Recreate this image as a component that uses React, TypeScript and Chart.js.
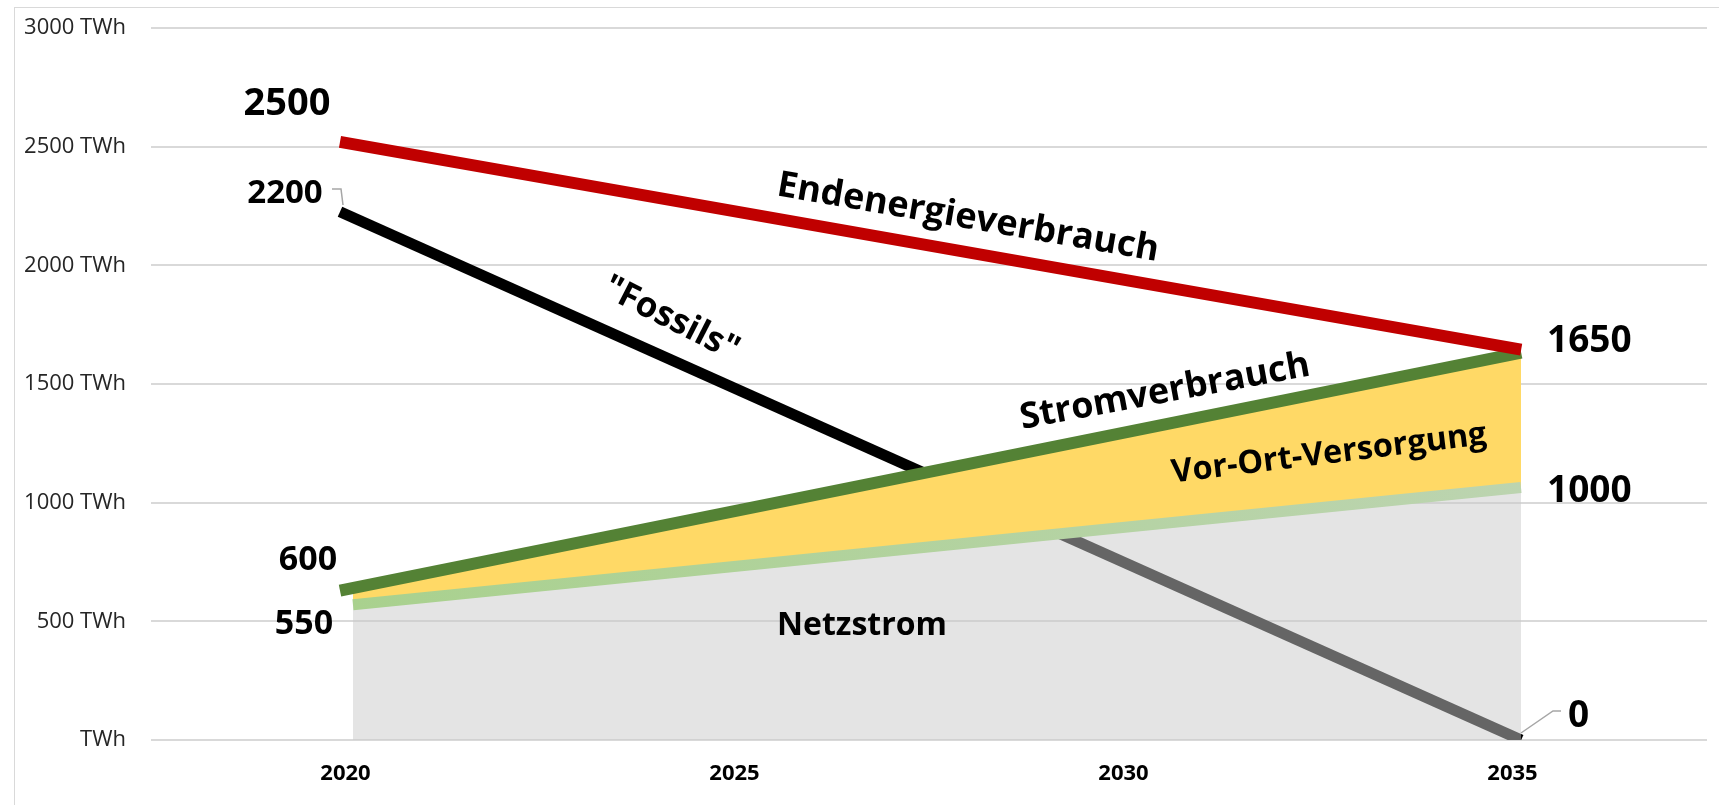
import React, { useEffect, useRef } from 'react';
import { Chart, registerables } from 'chart.js';

Chart.register(...registerables);

// ---- data ----
const years = [2020, 2035];
const xLabels = ['2020', '2025', '2030', '2035'];
const yTicks = [0, 500, 1000, 1500, 2000, 2500, 3000];
const endenergie = [2520, 1645];
const fossils = [2226, 0];
const netzstrom = [570, 1064];
const stromverbrauch = [629, 1632];

const FONT = "'Open Sans', 'Noto Sans', sans-serif";

type Txt = { text: string; x: number; y: number; size: number; align: CanvasTextAlign; angle?: number };

const valueTexts: Txt[] = [
  { text: '2500', x: 287, y: 115, size: 38, align: 'center' },
  { text: '2200', x: 285, y: 203, size: 33, align: 'center' },
  { text: '600', x: 308, y: 570, size: 34, align: 'center' },
  { text: '550', x: 304, y: 634, size: 34, align: 'center' },
  { text: '1650', x: 1547, y: 352, size: 37, align: 'left' },
  { text: '1000', x: 1547, y: 502, size: 37, align: 'left' },
  { text: '0', x: 1568, y: 727, size: 37, align: 'left' },
  { text: 'Netzstrom', x: 862, y: 635, size: 32, align: 'center' },
];

const seriesTexts: Txt[] = [
  { text: 'Endenergieverbrauch', x: 968, y: 218, size: 36, align: 'center', angle: 9.8 },
  { text: '"Fossils"', x: 671, y: 319, size: 35, align: 'center', angle: 27 },
  { text: 'Stromverbrauch', x: 1165, y: 392, size: 36, align: 'center', angle: -10.5 },
  { text: 'Vor-Ort-Versorgung', x: 1329, y: 454, size: 32.5, align: 'center', angle: -7 },
];

const leaders: number[][][] = [
  [[332, 189], [341, 189], [343, 205]],
  [[1521, 733], [1553, 711], [1561, 711]],
];

const annotPlugin = {
  id: 'annot',
  afterDatasetsDraw(chart: any) {
    const ctx = chart.ctx as CanvasRenderingContext2D;
    ctx.save();
    ctx.strokeStyle = '#a6a6a6';
    ctx.lineWidth = 1.5;
    leaders.forEach((pts) => {
      ctx.beginPath();
      pts.forEach((p, i) => (i === 0 ? ctx.moveTo(p[0], p[1]) : ctx.lineTo(p[0], p[1])));
      ctx.stroke();
    });
    ctx.fillStyle = '#000';
    valueTexts.forEach((t) => {
      ctx.font = `bold ${t.size}px ${FONT}`;
      ctx.textAlign = t.align;
      ctx.textBaseline = 'alphabetic';
      ctx.fillText(t.text, t.x, t.y);
    });
    seriesTexts.forEach((t) => {
      ctx.save();
      ctx.translate(t.x, t.y);
      ctx.rotate(((t.angle || 0) * Math.PI) / 180);
      ctx.font = `bold ${t.size}px ${FONT}`;
      ctx.textAlign = 'center';
      ctx.textBaseline = 'middle';
      ctx.fillText(t.text, 0, 0);
      ctx.restore();
    });
    ctx.restore();
  },
};

const pts = (vals: number[]) => vals.map((v, i) => ({ x: years[i], y: v }));

const netzBorder = (c: any) => {
  const chart = c.chart;
  const area = chart.chartArea;
  if (!area) return '#a9d18e';
  const g = chart.ctx.createLinearGradient(area.left + 200, 0, area.right - 180, 0);
  g.addColorStop(0, '#a9d18e');
  g.addColorStop(1, '#bcd4b0');
  return g;
};

export default function App() {
  const ref = useRef<HTMLCanvasElement | null>(null);
  useEffect(() => {
    if (!ref.current) return;
    const chart = new Chart(ref.current, {
      type: 'line',
      data: {
        labels: xLabels,
        datasets: [
          {
            label: 'Endenergieverbrauch',
            data: pts(endenergie),
            xAxisID: 'xData',
            borderColor: '#c00000',
            borderWidth: 12,
            pointRadius: 0,
            fill: false,
            order: 1,
            borderCapStyle: 'butt',
          },
          {
            label: 'Fossils',
            data: pts(fossils),
            xAxisID: 'xData',
            borderColor: '#000000',
            borderWidth: 11,
            pointRadius: 0,
            fill: false,
            order: 4,
            borderCapStyle: 'butt',
          },
          {
            label: 'Netzstrom',
            data: pts(netzstrom),
            xAxisID: 'xArea',
            borderColor: netzBorder,
            borderWidth: 11,
            pointRadius: 0,
            fill: 'origin',
            backgroundColor: 'rgba(202,202,202,0.5)',
            order: 2,
            borderCapStyle: 'butt',
          },
          {
            label: 'Stromverbrauch',
            data: pts(stromverbrauch),
            xAxisID: 'xData',
            borderColor: '#548235',
            borderWidth: 12,
            pointRadius: 0,
            fill: 2,
            backgroundColor: '#ffd966',
            order: 3,
            borderCapStyle: 'butt',
          },
        ] as any,
      },
      options: {
        animation: false,
        responsive: false,
        layout: { padding: { left: 0, right: 12, top: 28, bottom: 0 } },
        plugins: { legend: { display: false }, tooltip: { enabled: false } },
        scales: {
          x: {
            type: 'category',
            labels: xLabels,
            offset: true,
            grid: { display: false },
            border: { display: false },
            ticks: { font: { family: FONT, size: 22, weight: 'bold' }, color: '#000', padding: 13, maxRotation: 0 },
            afterFit(s: any) {
              s.height = 65;
            },
          },
          xData: { type: 'linear', display: false, min: 2017.6, max: 2037.36 },
          xArea: { type: 'linear', display: false, min: 2017.406, max: 2037.389 },
          y: {
            min: 0,
            max: 3000,
            afterBuildTicks(s: any) {
              s.ticks = yTicks.map((v) => ({ value: v }));
            },
            ticks: {
              callback: (v: any) => (Number(v) === 0 ? 'TWh' : `${v} TWh`),
              padding: 0,
              font: { family: FONT, size: 22 },
              color: '#262626',
            },
            grid: { color: '#d9d9d9', lineWidth: 2, drawTicks: true, tickLength: 25, tickColor: 'rgba(0,0,0,0)' },
            border: { display: false },
            afterFit(s: any) {
              s.width = 151;
              s.paddingTop = 0;
              s.paddingBottom = 0;
            },
          },
        } as any,
      },
      plugins: [annotPlugin],
    });
    return () => chart.destroy();
  }, []);
  return (
    <div style={{ position: 'absolute', left: 0, top: 0, width: 1719, height: 805, background: '#fff', overflow: 'hidden' }}>
      <div style={{ position: 'absolute', left: 14, top: 7, width: 1719, height: 805, border: '1px solid #d9d9d9' }} />
      <canvas ref={ref} width={1719} height={805} style={{ position: 'absolute', left: 0, top: 0, width: 1719, height: 805 }} />
    </div>
  );
}
